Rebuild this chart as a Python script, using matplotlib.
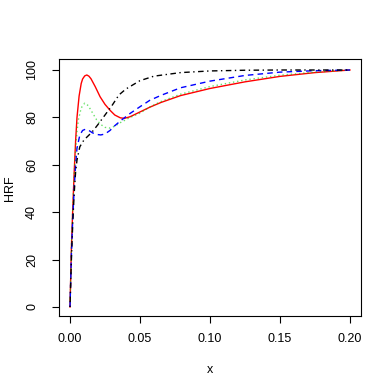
import matplotlib
matplotlib.use('Agg')
import matplotlib.pyplot as plt

# values
red_x = [0, 0.001, 0.002, 0.003, 0.004, 0.005, 0.0065, 0.008, 0.009, 0.0105, 0.012, 0.0135,
         0.015, 0.018, 0.0215, 0.025, 0.0286, 0.032, 0.036, 0.039, 0.043, 0.05, 0.057,
         0.065, 0.079, 0.1, 0.125, 0.15, 0.175, 0.2]
red_y = [0, 25, 42, 57, 70, 80, 89, 94.3, 96.2, 97.5, 97.9, 97.4,
         96.3, 93, 88.7, 85.5, 83, 81, 79.8, 79.6, 80.3, 82.3, 84.3,
         86.3, 89.2, 92.2, 95, 97.3, 98.9, 100]

green_x = [0, 0.001, 0.002, 0.003, 0.004, 0.005, 0.006, 0.008, 0.0105, 0.013, 0.016, 0.019,
           0.022, 0.025, 0.0286, 0.032, 0.036, 0.043, 0.05, 0.057, 0.065, 0.079,
           0.1, 0.125, 0.15, 0.175, 0.2]
green_y = [0, 25, 42, 56, 66, 74, 79, 84, 86, 85, 82, 79,
           77, 75.8, 75.5, 76.3, 77.8, 80, 81.8, 84.4, 86.7, 89.8,
           93, 95.8, 97.8, 99.1, 100]

blue_x = [0, 0.001, 0.002, 0.003, 0.004, 0.005, 0.007, 0.009, 0.011, 0.0135, 0.016, 0.019,
          0.022, 0.025, 0.0286, 0.032, 0.036, 0.043, 0.05, 0.057, 0.065, 0.079,
          0.1, 0.125, 0.15, 0.175, 0.2]
blue_y = [0, 22, 38, 50, 60, 67, 72.5, 74.5, 75, 74.5, 73.5, 72.8,
          72.6, 73, 74.5, 76.5, 78.5, 81.7, 84.5, 87.2, 89.3, 92.5,
          95.3, 97.7, 99.1, 99.7, 100]

black_x = [0, 0.001, 0.002, 0.003, 0.004, 0.005, 0.007, 0.01, 0.0135, 0.0167, 0.02, 0.025,
           0.03, 0.035, 0.04, 0.05, 0.06, 0.079, 0.1, 0.125, 0.15, 0.2]
black_y = [0, 20, 36, 48, 57, 62, 67.6, 70.5, 72.5, 74.5, 77, 81,
           85, 89.5, 92, 95.5, 97.4, 98.9, 99.6, 99.9, 100, 100]

x_ticks = [0.00, 0.05, 0.10, 0.15, 0.20]
x_tick_labels = ['0.00', '0.05', '0.10', '0.15', '0.20']
y_ticks = [0, 20, 40, 60, 80, 100]

plt.rcParams['font.family'] = ['Liberation Sans', 'DejaVu Sans']

fig = plt.figure(figsize=(3.92, 3.92), dpi=100)
ax = fig.add_axes([59 / 392, 1 - 316 / 392, 302 / 392, 257 / 392])

# curves, R style line types
ax.plot(red_x, red_y, color='#FF0000', lw=1.0, ls='-')
ax.plot(green_x, green_y, color='#00CD00', lw=1.0, ls=(0, (1, 2)), alpha=0.6)
ax.plot(blue_x, blue_y, color='#0000FF', lw=1.0, ls=(0, (4, 3)))
ax.plot(black_x, black_y, color='black', lw=1.0, ls=(0, (1, 2.5, 4, 2.5)))

ax.set_xlim(-0.00786, 0.2079)
ax.set_ylim(-3.8, 104.64)

ax.set_xticks(x_ticks)
ax.set_xticklabels(x_tick_labels)
ax.set_yticks(y_ticks)
ax.set_yticklabels([str(v) for v in y_ticks], rotation=90, va='center')
ax.tick_params(axis='both', direction='out', length=5, width=0.8, labelsize=9, color='black')
ax.tick_params(axis='x', pad=7)
ax.tick_params(axis='y', pad=10)
for s in ax.spines.values():
    s.set_linewidth(0.8)

# axis titles
fig.text(210 / 392, 1 - 370 / 392, 'x', ha='center', va='center', fontsize=9)
fig.text(10 / 392, 1 - 188 / 392, 'HRF', ha='center', va='center', rotation=90, fontsize=9)

fig.savefig('out.png', dpi=100)
